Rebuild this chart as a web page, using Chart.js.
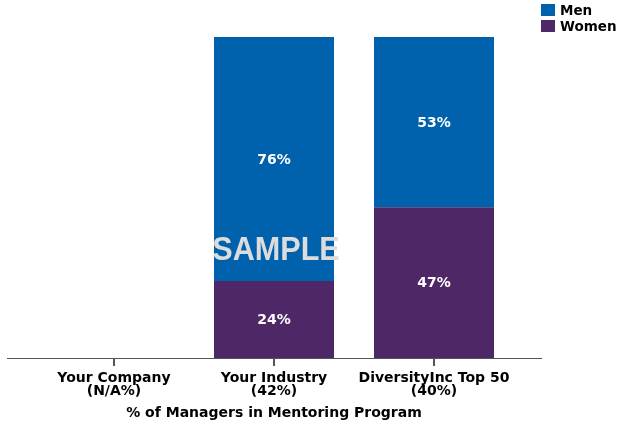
<!DOCTYPE html>
<html>
<head>
<meta charset="utf-8">
<script src="https://cdn.jsdelivr.net/npm/chart.js@4.4.1/dist/chart.umd.min.js"></script>
<style>
  html, body { margin: 0; padding: 0; background: #fff; }
  #wrap { width: 619px; height: 425px; position: relative; }
</style>
</head>
<body>
<div id="wrap"><canvas id="c" width="619" height="425"></canvas></div>
<script>
// Categories (two-line tick labels) and stacked shares
const categories = [
  ["Your Company", "(N/A%)"],
  ["Your Industry", "(42%)"],
  ["DiversityInc Top 50", "(40%)"]
];
const womenValues = [null, 24, 47];
const menValues = [null, 76, 53];
const seriesNames = ["Women", "Men"];
const axisTitle = "% of Managers in Mentoring Program";
const watermark = "SAMPLE";

const BLUE = "#0062AD";
const PURPLE = "#4E2866";
const FONT = "'DejaVu Sans', Verdana, sans-serif";
const MARK_FONT = "'Liberation Sans', Arial, sans-serif";

// Value labels centred in each segment
const valueLabels = {
  id: "valueLabels",
  afterDatasetsDraw(chart) {
    const ctx = chart.ctx;
    ctx.save();
    ctx.fillStyle = "#fff";
    ctx.font = "bold 14px " + FONT;
    ctx.textAlign = "center";
    ctx.textBaseline = "middle";
    chart.data.datasets.forEach((ds, di) => {
      chart.getDatasetMeta(di).data.forEach((bar, i) => {
        const v = ds.data[i];
        if (v == null) return;
        const mid = (bar.y + bar.base) / 2;
        ctx.fillText(v + "%", bar.x, mid + 1);
      });
    });
    ctx.restore();
  }
};

// Baseline, centred tick marks, watermark and legend
const decorations = {
  id: "decorations",
  afterDraw(chart) {
    const ctx = chart.ctx;
    const area = chart.chartArea;
    const xs = chart.scales.x;
    ctx.save();
    ctx.strokeStyle = "#555";
    ctx.lineWidth = 1;
    ctx.beginPath();
    ctx.moveTo(7, area.bottom + 0.5);
    ctx.lineTo(542, area.bottom + 0.5);
    ctx.stroke();
    ctx.lineWidth = 2;
    categories.forEach((c, i) => {
      const x = Math.round(xs.getPixelForValue(i));
      ctx.beginPath();
      ctx.moveTo(x, area.bottom);
      ctx.lineTo(x, area.bottom + 8);
      ctx.stroke();
    });

    // watermark
    ctx.save();
    ctx.fillStyle = "#dcdcdc";
    ctx.font = "bold 34px " + MARK_FONT;
    ctx.textAlign = "center";
    ctx.textBaseline = "middle";
    ctx.translate(276, 251);
    ctx.scale(0.9, 1);
    ctx.fillText(watermark, 0, 0);
    ctx.restore();

    // legend (Men above Women)
    const items = [
      { label: chart.data.datasets[1].label, color: chart.data.datasets[1].backgroundColor },
      { label: chart.data.datasets[0].label, color: chart.data.datasets[0].backgroundColor }
    ];
    ctx.font = "bold 13.5px " + FONT;
    ctx.textAlign = "left";
    ctx.textBaseline = "middle";
    items.forEach((it, k) => {
      const y = 4 + k * 16;
      ctx.fillStyle = it.color;
      ctx.fillRect(541, y, 14, 12);
      ctx.fillStyle = "#000";
      ctx.fillText(it.label, 560, y + 7);
    });
    ctx.restore();
  }
};

new Chart(document.getElementById("c"), {
  type: "bar",
  data: {
    labels: categories,
    datasets: [
      { label: seriesNames[0], data: womenValues, backgroundColor: PURPLE, borderWidth: 0 },
      { label: seriesNames[1], data: menValues, backgroundColor: BLUE, borderWidth: 0 }
    ]
  },
  options: {
    responsive: false,
    animation: false,
    layout: { padding: { left: 34, right: 105, top: 37, bottom: 0 } },
    datasets: { bar: { categoryPercentage: 1.0, barPercentage: 0.75 } },
    plugins: { legend: { display: false }, tooltip: { enabled: false } },
    scales: {
      x: {
        stacked: true,
        afterFit(scale) { scale.height = 67; },
        grid: { display: false, drawTicks: false },
        border: { display: false },
        ticks: {
          color: "#000",
          font: { family: FONT, size: 14, weight: "bold", lineHeight: 0.9 },
          padding: 14,
          maxRotation: 0,
          autoSkip: false
        },
        title: {
          display: true,
          text: axisTitle,
          color: "#000",
          font: { family: FONT, size: 14, weight: "bold" },
          padding: { top: 2, bottom: 3 }
        }
      },
      y: {
        stacked: true,
        display: false,
        min: 0,
        max: 100
      }
    }
  },
  plugins: [valueLabels, decorations]
});
</script>
</body>
</html>
